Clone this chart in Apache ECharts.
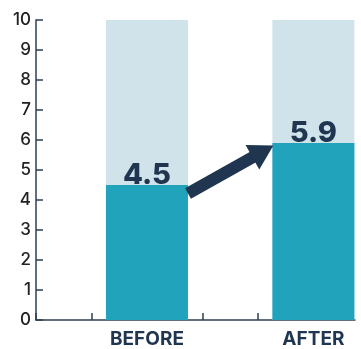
<!DOCTYPE html>
<html><head><meta charset="utf-8">
<script src="https://cdn.jsdelivr.net/npm/echarts@6/dist/echarts.min.js"></script>
<style>html,body{margin:0;padding:0;background:#fff}#c{width:361px;height:349px}</style>
</head><body><div id="c"></div>
<script>
const categories = ['BEFORE', 'AFTER'];
const values = [4.5, 5.9];
const totals = [10, 10];
const yTicks = [0, 1, 2, 3, 4, 5, 6, 7, 8, 9, 10];

const slots = [2, 5];
const navy = '#1f3550';
const chart = echarts.init(document.getElementById('c'));
chart.setOption({
  animation: false,
  grid: { left: 36, right: 6, top: 20, bottom: 25 },
  xAxis: {
    type: 'value', min: 0, max: 5.75, interval: 1,
    splitLine: { show: false },
    axisLine: { show: true, lineStyle: { color: '#2e3f50', width: 1.5 } },
    axisTick: { show: true, inside: true, length: 7, lineStyle: { color: '#2e3f50', width: 1.5 }, customValues: [0,1,2,3,4,5] },
    axisLabel: {
      customValues: slots,
      formatter: v => { const i = slots.indexOf(v); return i >= 0 ? categories[i] : ''; },
      fontFamily: 'Inter', fontWeight: 'bold', fontSize: 19, color: navy, margin: 10
    }
  },
  yAxis: {
    type: 'value', min: 0, max: 10, interval: 1,
    splitLine: { show: false },
    axisLine: { show: true, lineStyle: { color: '#2e3f50', width: 1.5 } },
    axisTick: { show: true, inside: true, length: 7, lineStyle: { color: '#2e3f50', width: 1.5 } },
    axisLabel: { fontFamily: 'Inter', fontSize: 17, fontWeight: 500, color: '#222', margin: 5,
      formatter: v => yTicks.includes(v) ? String(v) : '' }
  },
  series: [
    {
      type: 'bar', barWidth: 82, barGap: '-100%', silent: true,
      itemStyle: { color: '#d0e2ea' },
      data: slots.map((s, i) => [s, totals[i]])
    },
    {
      type: 'bar', barWidth: 82, barGap: '-100%', silent: true,
      itemStyle: { color: '#21a3bc' },
      label: { show: true, position: 'top', distance: -5, fontFamily: 'Inter', fontWeight: 800, fontSize: 29, color: navy },
      data: slots.map((s, i) => [s, values[i]]),
      markLine: {
        silent: true, animation: false,
        symbol: ['none', 'triangle'], symbolSize: [28, 24],
        label: { show: false },
        lineStyle: { color: navy, width: 12, type: 'solid' },
        emphasis: { disabled: true },
        data: [[ { coord: [2.74, 4.22] }, { coord: [4.09, 5.62] } ]]
      }
    }
  ]
});
</script></body></html>
